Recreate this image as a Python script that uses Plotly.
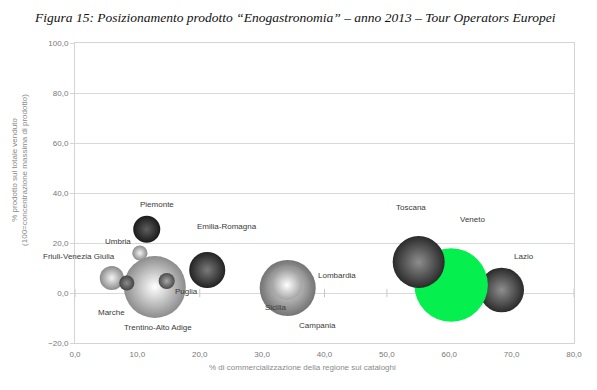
import plotly.graph_objects as go

# ---- data ----
regions = ["Trentino-Alto Adige", "Campania", "Lombardia", "Lazio", "Veneto", "Toscana",
           "Emilia-Romagna", "Piemonte", "Umbria", "Friuli-Venezia Giulia",
           "Marche", "Puglia", "Sicilia"]
x_comm = [12.8, 34.1, 34.1, 68.4, 60.3, 55.1, 21.2, 11.5, 10.4, 5.9, 8.3, 14.7, 34.0]
y_prod = [2.4, 2.0, 2.4, 1.2, 3.2, 12.4, 9.2, 25.5, 16.0, 6.0, 4.0, 4.8, 3.2]
volume = [38.4, 31.4, 19.4, 20.0, 54.0, 27.0, 13.0, 7.3, 2.3, 5.8, 2.3, 2.6, 9.0]

# label offsets (data units) relative to the bubble centres
label_dx = [0.5, 4.7, 7.9, 3.6, 3.5, -1.3, 3.2, 1.6, -3.5, 0.8, -2.4, 3.1, -1.8]
label_dy = [-16.0, -14.8, 4.8, 13.6, 26.4, 22.0, 17.6, 10.1, 4.8, 8.8, -11.6, -4.0, -8.8]
label_anchor = ["center", "center", "center", "center", "center", "center", "center",
                "center", "center", "right", "center", "center", "center"]

edge_col = ["#8c8c8c", "#747474", "#8e8e8e", "#2a2a2a", "#05ef4f", "#2a2a2a", "#222222",
            "#1a1a1a", "#8a8a8a", "#8a8a8a", "#444444", "#4a4a4a", "#a4a4a4"]
centre_col = ["#ffffff", "#dedede", "#e6e6e6", "#8e8e8e", "#05ef4f", "#8e8e8e", "#7a7a7a",
              "#5e5e5e", "#f4f4f4", "#f4f4f4", "#8a8a8a", "#a8a8a8", "#ffffff"]

x_ticks = [0, 10, 20, 30, 40, 50, 60, 70, 80]
y_ticks = [-20, 0, 20, 40, 60, 80, 100]

fig = go.Figure()
# tick marks of the horizontal axis crossing at y = 0
fig.add_trace(go.Scatter(
    x=x_ticks, y=[0] * len(x_ticks), mode="markers",
    marker=dict(symbol="line-ns-open", size=6, color="#c8c8c8",
                line=dict(width=1, color="#c8c8c8")),
    hoverinfo="skip", showlegend=False))

fig.add_trace(go.Scatter(
    x=x_comm, y=y_prod, mode="markers",
    marker=dict(size=volume, sizemode="area", sizeref=0.02,
                color=edge_col,
                gradient=dict(type="radial", color=centre_col),
                line=dict(width=0), opacity=1),
    cliponaxis=False, hoverinfo="text", text=regions, showlegend=False))

for r, x, y, dx, dy, a in zip(regions, x_comm, y_prod, label_dx, label_dy, label_anchor):
    fig.add_annotation(x=x + dx, y=y + dy, text=r, showarrow=False,
                       xanchor=a, yanchor="middle",
                       font=dict(family="Liberation Sans", size=8, color="#3a3a3a"))

fig.add_annotation(xref="paper", yref="paper", x=0.441, y=1.0, yshift=26,
                   text="<i>Figura 15: Posizionamento prodotto “Enogastronomia” – anno 2013 – Tour Operators Europei</i>",
                   showarrow=False, xanchor="center", yanchor="middle",
                   font=dict(family="Liberation Serif", size=13.5, color="#111111"))

fig.add_annotation(xref="paper", yref="paper", x=0, xshift=-55, y=0.577,
                   text="% prodotto sul totale venduto<br>(100=concentrazione massima di prodotto)",
                   textangle=-90, showarrow=False, xanchor="center", yanchor="middle",
                   font=dict(family="Liberation Sans", size=8, color="#8a8a8a"))

fig.add_annotation(xref="paper", yref="paper", x=0.455, y=0, yshift=-24,
                   text="% di commercializzazione della regione sui cataloghi",
                   showarrow=False, xanchor="center", yanchor="middle",
                   font=dict(family="Liberation Sans", size=8, color="#8a8a8a"))

fig.update_layout(
    template="none",
    width=597, height=390,
    margin=dict(l=67, r=31, t=35, b=55, autoexpand=False),
    paper_bgcolor="white", plot_bgcolor="white",
    separators=", ",
    xaxis=dict(range=[0, 80], tickvals=x_ticks, tickformat=".1f", automargin=False,
               showgrid=False, zeroline=False, showline=True, mirror=True,
               linecolor="#d4d4d4", linewidth=1, ticks="outside", ticklen=3,
               tickcolor="rgba(0,0,0,0)",
               tickfont=dict(family="Liberation Sans", size=8, color="#777777")),
    yaxis=dict(range=[-20, 100], tickvals=y_ticks, tickformat=".1f", automargin=False,
               showgrid=True, gridcolor="#d9d9d9", gridwidth=1,
               zeroline=False, showline=True, mirror=True,
               linecolor="#d4d4d4", linewidth=1, ticks="outside", ticklen=4,
               tickcolor="#d4d4d4",
               tickfont=dict(family="Liberation Sans", size=8, color="#777777")),
)

fig.write_html("out.html")
